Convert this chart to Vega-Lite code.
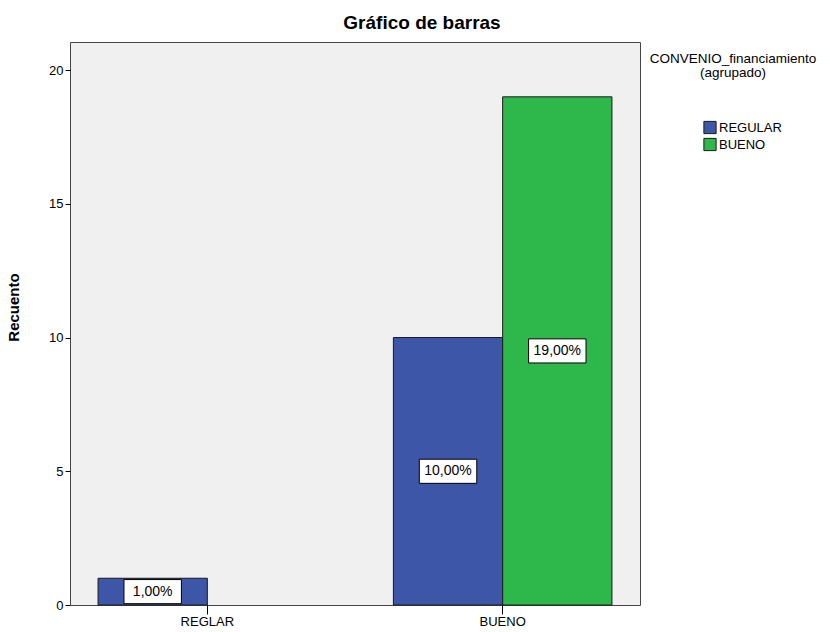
{
  "$schema": "https://vega.github.io/schema/vega-lite/v6.json",
  "autosize": {"type": "none"},
  "width": 570,
  "height": 563,
  "padding": {"left": 70, "top": 42, "right": 190, "bottom": 27},
  "background": "white",
  "title": {
    "text": "Gráfico de barras",
    "font": "Liberation Sans",
    "fontSize": 19,
    "fontWeight": "bold",
    "color": "black",
    "anchor": "middle",
    "dx": 67,
    "offset": 9
  },
  "config": {
    "view": {"fill": "#F0F0F0", "stroke": "#444444", "strokeWidth": 1},
    "font": "Liberation Sans"
  },
  "data": {
    "values": [
      {"categoria": "REGLAR", "grupo": "REGULAR", "recuento": 1, "etiqueta": "1,00%"},
      {"categoria": "BUENO", "grupo": "REGULAR", "recuento": 10, "etiqueta": "10,00%"},
      {"categoria": "BUENO", "grupo": "BUENO", "recuento": 19, "etiqueta": "19,00%"}
    ]
  },
  "encoding": {
    "x": {
      "field": "categoria",
      "type": "nominal",
      "sort": ["REGLAR", "BUENO"],
      "scale": {"paddingInner": 0.26, "paddingOuter": 0.095},
      "axis": {
        "title": null,
        "labelAngle": 0,
        "labelFont": "Liberation Sans",
        "labelFontSize": 13,
        "labelColor": "black",
        "tickColor": "black",
        "tickSize": 9,
        "labelPadding": 1,
        "domain": false
      }
    },
    "xOffset": {
      "field": "grupo",
      "type": "nominal",
      "sort": ["REGULAR", "BUENO"],
      "scale": {"paddingInner": 0, "paddingOuter": 0, "domain": ["REGULAR", "BUENO"]}
    }
  },
  "resolve": {"scale": {"y": "independent"}},
  "layer": [
    {
      "mark": {"type": "bar", "stroke": "#1a1a1a", "strokeWidth": 1},
      "encoding": {
        "y": {
          "field": "recuento",
          "type": "quantitative",
          "scale": {"domain": [0, 21.05], "nice": false, "zero": true},
          "axis": {
            "title": "Recuento",
            "titleFont": "Liberation Sans",
            "titleFontSize": 15,
            "titleFontWeight": "bold",
            "titleColor": "black",
            "titlePadding": 27,
            "titleY": 265,
            "values": [0, 5, 10, 15, 20],
            "labelFont": "Liberation Sans",
            "labelFontSize": 13,
            "labelColor": "black",
            "tickColor": "black",
            "tickSize": 5,
            "labelPadding": 2,
            "grid": false,
            "domain": false
          }
        },
        "color": {
          "field": "grupo",
          "type": "nominal",
          "sort": ["REGULAR", "BUENO"],
          "scale": {"domain": ["REGULAR", "BUENO"], "range": ["#3D56A8", "#2EB74B"]},
          "legend": {
            "title": ["CONVENIO_financiamiento", "(agrupado)"],
            "orient": "none",
            "legendX": 580,
            "legendY": 10,
            "titleFont": "Liberation Sans",
            "titleFontSize": 13.5,
            "titleFontWeight": "normal",
            "titleColor": "black",
            "titleAlign": "center",
            "titleAnchor": "middle",
            "titleLineHeight": 14,
            "titlePadding": 41,
            "symbolType": "square",
            "symbolSize": 150,
            "symbolStrokeColor": "#1a1a1a",
            "symbolStrokeWidth": 1,
            "symbolOpacity": 1,
            "symbolOffset": 19,
            "labelFont": "Liberation Sans",
            "labelFontSize": 13,
            "labelColor": "black",
            "labelOffset": 2,
            "rowPadding": -1
          }
        }
      }
    },
    {
      "mark": {
        "type": "point",
        "shape": "M-1,-0.42H1V0.42H-1Z",
        "size": 3300,
        "filled": true,
        "fill": "white",
        "stroke": "black",
        "strokeWidth": 1,
        "opacity": 1
      },
      "encoding": {
        "y": {
          "field": "recuento",
          "type": "quantitative",
          "scale": {"domain": [0, 42.1], "nice": false, "zero": true},
          "axis": null
        }
      }
    },
    {
      "mark": {
        "type": "text",
        "font": "Liberation Sans",
        "fontSize": 14,
        "color": "black",
        "align": "center",
        "baseline": "middle"
      },
      "encoding": {
        "y": {
          "field": "recuento",
          "type": "quantitative",
          "scale": {"domain": [0, 42.1], "nice": false, "zero": true},
          "axis": null
        },
        "text": {"field": "etiqueta"}
      }
    }
  ]
}
